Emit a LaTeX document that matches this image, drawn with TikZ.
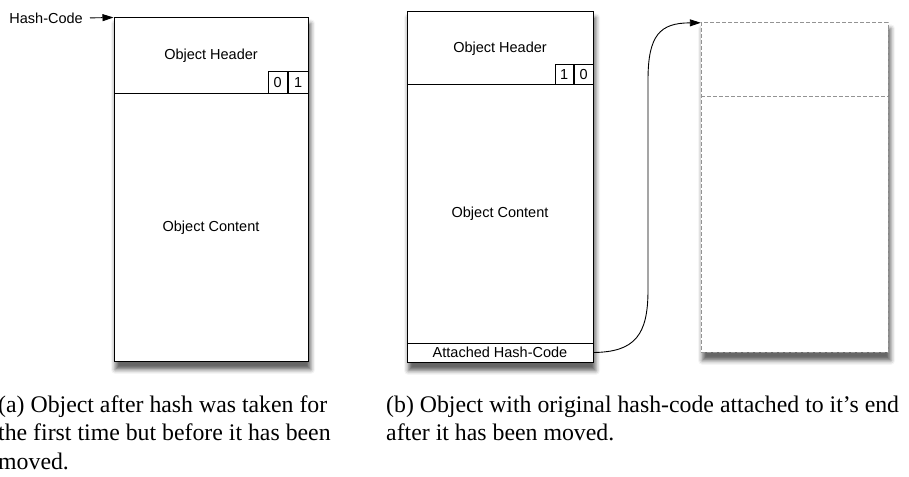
\documentclass[tikz,border=0pt]{standalone}
\usepackage{fontspec}
\setmainfont{Liberation Serif}
\newfontfamily\labelfont{Liberation Sans}
\usetikzlibrary{shadows.blur,arrows.meta}

\tikzset{
  objbox/.style={draw, line width=1pt, fill=white, inner sep=0pt},
  movedbox/.style={draw=gray!85, dash pattern=on 4pt off 2pt, line width=1pt, fill=white, inner sep=0pt},
  boxshadow/.style={blur shadow={shadow xshift=2pt, shadow yshift=-7pt, shadow scale=1.01, shadow blur radius=4pt, shadow opacity=60}},
  lbl/.style={font=\labelfont\fontsize{14.5}{17}\selectfont},
  bitbox/.style={objbox, lbl, minimum width=19.5pt, minimum height=22pt, anchor=south east},
  arrow/.style={-{Triangle[length=11pt,width=7pt]}, line width=0.9pt},
  capt/.style={font=\fontsize{23.8}{28.3}\selectfont, align=left, inner sep=0pt, anchor=base west}
}

\begin{document}
\begin{tikzpicture}[x=1pt,y=-1pt]
\useasboundingbox (0,0) rectangle (909,476);

% (a) object after hashing
\node[objbox, boxshadow, minimum width=194pt, minimum height=343pt] (frameA) at (211,189.5) {};
\node[objbox, lbl, minimum width=194pt, minimum height=76pt] (hdrA) at (211,56) {Object Header};
\node[objbox, lbl, minimum width=194pt, minimum height=267pt] (bodyA) at (211,227.5) {Object Content};
\node[bitbox] (bitA1) at (hdrA.south east) {1};
\node[bitbox] (bitA0) at (bitA1.south west) {0};
\node[lbl, anchor=east, inner sep=0pt] (hashA) at (83,18) {Hash-Code};
\draw[arrow, shorten <=7pt] (hashA.east) -- (hdrA.north west);

% (b) object after moving
\node[objbox, boxshadow, minimum width=186pt, minimum height=350pt] (frameB) at (500,187) {};
\node[objbox, lbl, minimum width=186pt, minimum height=73pt] (hdrB) at (500,48.5) {Object Header};
\node[objbox, lbl, minimum width=186pt, minimum height=258pt] (bodyB) at (500,214) {Object Content};
\node[objbox, lbl, minimum width=186pt, minimum height=19pt] (attB) at (500,352.5) {Attached Hash-Code};
\node[bitbox, minimum width=18.5pt, minimum height=20pt] (bitB0) at (hdrB.south east) {0};
\node[bitbox, minimum width=18.5pt, minimum height=20pt] (bitB1) at (bitB0.south west) {1};

% old place of the object
\node[movedbox, boxshadow, minimum width=187pt, minimum height=329pt] (frameC) at (794.5,187.5) {};
\node[inner sep=0pt, minimum width=187pt, minimum height=73pt] (hdrC) at (794.5,59.5) {};
\draw[movedbox] (hdrC.south west) -- (hdrC.south east);

\draw[arrow] (attB.east) .. controls (635,352) and (648,335) .. (648,290)
  -- (648,80) .. controls (648,35) and (660,23) .. (hdrC.north west);

% captions (anchored on their last line)
\node[capt] (capA) at (-2,469) {(a) Object after hash was taken for\\the first time but before it has been\\moved.};
\node[capt] (capB) at (386,440.5) {(b) Object with original hash-code attached to it's end\\after it has been moved.};
\end{tikzpicture}
\end{document}
